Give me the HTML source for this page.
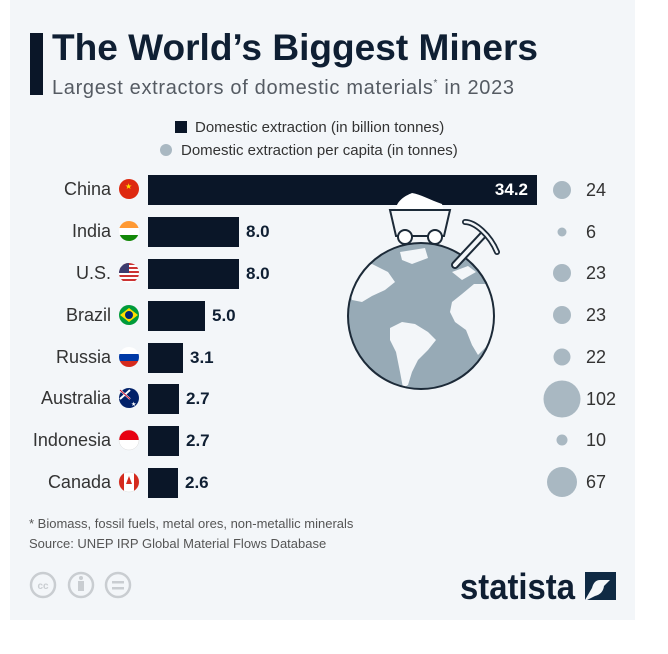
<!DOCTYPE html>
<html><head><meta charset="utf-8"><style>
body{margin:0;width:668px;height:654px;background:#fff;font-family:"Liberation Sans",sans-serif;position:relative;overflow:hidden}
#p{position:absolute;left:10px;top:0;width:625px;height:620px;background:#f3f6f9}
.a{position:absolute;white-space:nowrap}
</style></head><body>
<div id="p"></div>
<div class="a" style="left:30px;top:33px;width:13px;height:62px;background:#0a1628"></div>
<svg class="a" style="left:0;top:0" width="668" height="654">
<text x="52" y="60" font-size="37" font-weight="bold" fill="#0f1f33" textLength="486" lengthAdjust="spacingAndGlyphs">The World’s Biggest Miners</text>
<text x="52" y="94" font-size="20" fill="#555b63" textLength="462" lengthAdjust="spacing">Largest extractors of domestic materials<tspan font-size="10" dy="-8">*</tspan><tspan dy="8"> in 2023</tspan></text>
<g font-family="Liberation Sans,sans-serif" font-size="18" fill="#333">
<rect x="175" y="121" width="12" height="12" fill="#0a1628"/>
<text x="195" y="132" font-size="15">Domestic extraction (in billion tonnes)</text>
<circle cx="166" cy="150" r="6" fill="#a9b8c2"/>
<text x="181" y="155" font-size="15">Domestic extraction per capita (in tonnes)</text>
<g text-anchor="end">
<text x="111" y="195">China</text><text x="111" y="237">India</text><text x="111" y="279">U.S.</text><text x="111" y="321">Brazil</text><text x="111" y="363">Russia</text><text x="111" y="404">Australia</text><text x="111" y="446">Indonesia</text><text x="111" y="488">Canada</text>
</g>
<g fill="#0a1628">
<rect x="148" y="175" width="389" height="30"/><rect x="148" y="217" width="91" height="30"/><rect x="148" y="259" width="91" height="30"/><rect x="148" y="301" width="57" height="30"/><rect x="148" y="343" width="35" height="30"/><rect x="148" y="384" width="31" height="30"/><rect x="148" y="426" width="31" height="30"/><rect x="148" y="468" width="30" height="30"/>
</g>
<g font-weight="bold" font-size="17" fill="#0f1f33">
<text x="528" y="195" text-anchor="end" fill="#fff">34.2</text>
<text x="246" y="237">8.0</text><text x="246" y="279">8.0</text><text x="212" y="321">5.0</text><text x="190" y="363">3.1</text><text x="186" y="404">2.7</text><text x="186" y="446">2.7</text><text x="185" y="488">2.6</text>
</g>
<circle cx="129" cy="189" r="10" fill="#de2910"/><text x="125" y="189" font-size="8" fill="#ffde00">★</text>
<clipPath id="ci"><circle cx="129" cy="231" r="10"/></clipPath><g clip-path="url(#ci)"><rect x="119" y="221" width="20" height="7" fill="#f93"/><rect x="119" y="228" width="20" height="7" fill="#fff"/><rect x="119" y="235" width="20" height="7" fill="#138808"/></g>
<clipPath id="cu"><circle cx="129" cy="273" r="10"/></clipPath><g clip-path="url(#cu)"><rect x="119" y="263" width="20" height="20" fill="#fff"/><g fill="#c33"><rect x="119" y="263" width="20" height="2"/><rect x="119" y="267" width="20" height="2"/><rect x="119" y="271" width="20" height="2"/><rect x="119" y="275" width="20" height="2"/><rect x="119" y="279" width="20" height="2"/></g><rect x="119" y="263" width="10" height="10" fill="#3c3b6e"/></g>
<circle cx="129" cy="315" r="10" fill="#009b3a"/><path d="M120 315 L129 308 L138 315 L129 322Z" fill="#fedf00"/><circle cx="129" cy="315" r="4" fill="#002776"/>
<clipPath id="cr"><circle cx="129" cy="357" r="10"/></clipPath><g clip-path="url(#cr)"><rect x="119" y="347" width="20" height="7" fill="#fff"/><rect x="119" y="354" width="20" height="7" fill="#0039a6"/><rect x="119" y="361" width="20" height="7" fill="#d52b1e"/></g>
<circle cx="129" cy="398" r="10" fill="#012169"/><path d="M120 390 L130 399 M130 390 L120 399" stroke="#fff" stroke-width="2"/><path d="M120 390 L130 399" stroke="#c8102e" stroke-width="1"/><text x="131" y="406" font-size="6" fill="#fff">★</text>
<clipPath id="cd"><circle cx="129" cy="440" r="10"/></clipPath><g clip-path="url(#cd)"><rect x="119" y="430" width="20" height="10" fill="#e70011"/><rect x="119" y="440" width="20" height="10" fill="#fff"/></g><circle cx="129" cy="440" r="10" fill="none" stroke="#ddd" stroke-width="0.5"/>
<circle cx="129" cy="482" r="10" fill="#fff" stroke="#ddd" stroke-width="0.5"/><clipPath id="cc"><circle cx="129" cy="482" r="10"/></clipPath><g clip-path="url(#cc)" fill="#d52b1e"><rect x="119" y="472" width="5" height="20"/><rect x="134" y="472" width="5" height="20"/><path d="M129 476 L132 484 L126 484Z"/></g>
<g fill="#a9b8c2">
<circle cx="562" cy="190" r="9"/><circle cx="562" cy="232" r="4.5"/><circle cx="562" cy="273" r="9"/><circle cx="562" cy="315" r="9"/><circle cx="562" cy="357" r="8.5"/><circle cx="562" cy="399" r="18.5"/><circle cx="562" cy="440" r="5.5"/><circle cx="562" cy="482" r="15"/>
</g>
<g font-size="18" fill="#333"><text x="586" y="196">24</text><text x="586" y="238">6</text><text x="586" y="279">23</text><text x="586" y="321">23</text><text x="586" y="363">22</text><text x="586" y="405">102</text><text x="586" y="446">10</text><text x="586" y="488">67</text></g>
<clipPath id="gl"><circle cx="421" cy="316" r="73"/></clipPath>
<circle cx="421" cy="316" r="73" fill="#97aab6"/>
<g clip-path="url(#gl)" fill="#f3f6f9">
<path d="M345 275 L360 268 L372 264 L388 272 L395 282 L385 290 L372 296 L362 302 L352 300Z"/>
<path d="M400 252 L425 248 L428 258 L412 264 L402 260Z"/>
<path d="M390 328 L402 322 L415 324 L428 332 L436 340 L428 350 L418 360 L412 372 L408 385 L403 388 L400 372 L396 352 L390 340Z"/>
<path d="M452 302 L462 294 L474 284 L492 284 L498 295 L497 325 L488 345 L478 355 L472 345 L466 330 L455 322 L450 312Z"/>
<path d="M452 272 L468 266 L476 272 L462 280Z"/>
</g>
<circle cx="421" cy="316" r="73" fill="none" stroke="#1c2a38" stroke-width="2"/>
<path d="M395 211 C397 200 405 196 412 193 C420 194 430 200 442 204 L444 211Z" fill="#fff"/>
<path d="M390 210 L450 210 L444 236 L396 236Z" fill="#f3f6f9" stroke="#1c2a38" stroke-width="2"/>
<circle cx="405" cy="237" r="7" fill="#fff" stroke="#1c2a38" stroke-width="2"/><circle cx="435" cy="237" r="7" fill="#fff" stroke="#1c2a38" stroke-width="2"/>
<path d="M455 265 L483 235" stroke="#1c2a38" stroke-width="8" stroke-linecap="round"/><path d="M455 265 L483 235" stroke="#f3f6f9" stroke-width="4" stroke-linecap="round"/>
<path d="M465 222 C475 222 490 235 497 252" stroke="#1c2a38" stroke-width="6" fill="none" stroke-linecap="round"/><path d="M465 222 C475 222 490 235 497 252" stroke="#f3f6f9" stroke-width="2.5" fill="none" stroke-linecap="round"/>
<text x="29" y="528" font-size="13" fill="#555">* Biomass, fossil fuels, metal ores, non-metallic minerals</text>
<text x="29" y="548" font-size="13" fill="#555">Source: UNEP IRP Global Material Flows Database</text>
<g fill="none" stroke="#c9cdd1" stroke-width="2.5"><circle cx="43" cy="585" r="12"/><circle cx="81" cy="585" r="12"/><circle cx="118" cy="585" r="12"/></g>
<text x="43" y="589" font-size="10" fill="#c9cdd1" text-anchor="middle" font-weight="bold">cc</text>
<circle cx="81" cy="578" r="2" fill="#c9cdd1"/><rect x="78" y="581" width="6" height="10" fill="#c9cdd1"/>
<rect x="112" y="581" width="12" height="2.5" fill="#c9cdd1"/><rect x="112" y="587" width="12" height="2.5" fill="#c9cdd1"/>
<text x="460" y="599" font-size="36" font-weight="bold" fill="#0f1f33" textLength="115" lengthAdjust="spacingAndGlyphs">statista</text>
<path d="M585 572 L616 572 L616 580 L600 580 Q594 580 592 588 L585 600Z" fill="#0f2a44"/>
<path d="M616 574 L616 600 L587 600 L595 596 Q603 594 604 586 Z" fill="#0f2a44"/>
</g></svg>
</body></html>
